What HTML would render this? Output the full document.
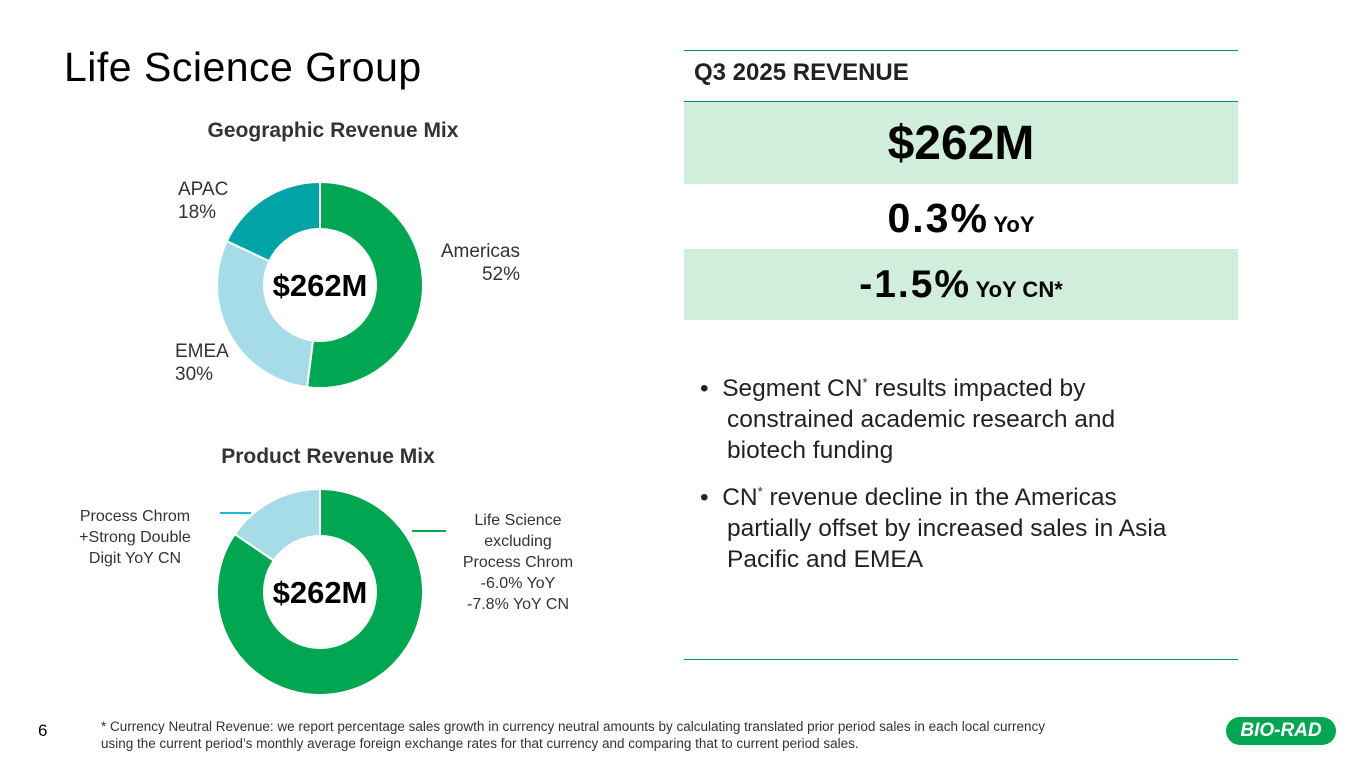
<!DOCTYPE html>
<html><head><meta charset="utf-8"><style>
body{margin:0;width:1365px;height:768px;background:#fff;font-family:"Liberation Sans",sans-serif;position:relative;overflow:hidden;color:#000}
.a{position:absolute}
</style></head><body>
<div class="a" style="left:64px;top:44px;font-size:41px;letter-spacing:0.5px">Life Science Group</div>
<div class="a" style="left:168px;top:119px;width:330px;text-align:center;font-size:21px;font-weight:bold;color:#333">Geographic Revenue Mix</div>
<div class="a" style="left:163px;top:445px;width:330px;text-align:center;font-size:21px;font-weight:bold;color:#333">Product Revenue Mix</div>
<svg class="a" style="left:0;top:0" width="680" height="768" id="svg"></svg>
<div class="a" style="left:178px;top:178px;font-size:19px;color:#333;line-height:23px">APAC<br>18%</div>
<div class="a" style="left:420px;top:240px;width:100px;text-align:right;font-size:19px;color:#333;line-height:23px">Americas<br>52%</div>
<div class="a" style="left:175px;top:340px;font-size:19px;color:#333;line-height:23px">EMEA<br>30%</div>
<div class="a" style="left:60px;top:506px;width:150px;text-align:center;font-size:16px;color:#333;line-height:21px">Process Chrom<br>+Strong Double<br>Digit YoY CN</div>
<div class="a" style="left:443px;top:510px;width:150px;text-align:center;font-size:16px;color:#333;line-height:21px">Life Science<br>excluding<br>Process Chrom<br>-6.0% YoY<br>-7.8% YoY CN</div>
<div class="a" style="left:220px;top:512px;width:31px;height:2px;background:#1fb5d4"></div>
<div class="a" style="left:412px;top:530px;width:34px;height:2px;background:#00a651"></div>

<div class="a" style="left:684px;top:50px;width:554px;height:1px;background:#008a7e"></div>
<div class="a" style="left:694px;top:59px;font-size:24px;font-weight:bold;color:#222">Q3 2025 REVENUE</div>
<div class="a" style="left:684px;top:101px;width:554px;height:1px;background:#008a7e"></div>
<div class="a" style="left:684px;top:102px;width:554px;height:82px;background:#d1eedd;text-align:center;font-size:48px;font-weight:bold;line-height:84px">$262M</div>
<div class="a" style="left:684px;top:185px;width:554px;height:64px;text-align:center;line-height:66px"><span style="font-size:41px;font-weight:bold;letter-spacing:2px">0.3%</span> <span style="font-size:22px;font-weight:bold">YoY</span></div>
<div class="a" style="left:684px;top:249px;width:554px;height:71px;background:#d1eedd;text-align:center;line-height:72px"><span style="font-size:39px;font-weight:bold;letter-spacing:2px">-1.5%</span> <span style="font-size:22px;font-weight:bold">YoY CN*</span></div>
<div class="a" style="left:700px;top:373px;width:500px;font-size:24.5px;line-height:31px;color:#222">
<div style="padding-left:27px;text-indent:-27px;margin-bottom:16px">•&nbsp;&nbsp;Segment CN<sup style="font-size:13px;line-height:0">*</sup> results impacted by constrained academic research and biotech funding</div>
<div style="padding-left:27px;text-indent:-27px">•&nbsp;&nbsp;CN<sup style="font-size:13px;line-height:0">*</sup> revenue decline in the Americas partially offset by increased sales in Asia Pacific and EMEA</div>
</div>
<div class="a" style="left:684px;top:659px;width:554px;height:1px;background:#008a7e"></div>
<div class="a" style="left:38px;top:721px;font-size:17px">6</div>
<div class="a" style="left:101px;top:718px;width:1100px;font-size:13.5px;line-height:17px;color:#333">* Currency Neutral Revenue: we report percentage sales growth in currency neutral amounts by calculating translated prior period sales in each local currency<br>using the current period’s monthly average foreign exchange rates for that currency and comparing that to current period sales.</div>
<div class="a" style="left:1226px;top:717px;width:110px;height:28px;border-radius:14px;background:#00a651;color:#fff;font-weight:bold;font-style:italic;font-size:19px;text-align:center;line-height:28px">BIO-RAD</div>
<script>
const geoCategories=["Americas","EMEA","APAC"];
const geoValues=[52,30,18];
const geoColors=["#00a651","#a6dbe8","#00a3a6"];
const prodCategories=["Life Science excl. Process Chrom","Process Chrom"];
const prodValues=[84.5,15.5];
const prodColors=["#00a651","#a6dbe8"];
const svg=document.getElementById('svg');
const NS='http://www.w3.org/2000/svg';
function pt(cx,cy,r,f){const a=f*2*Math.PI;return [cx+r*Math.sin(a),cy-r*Math.cos(a)];}
function donut(cx,cy,R,r,vals,cols,cats,name){
 const tot=vals.reduce((a,b)=>a+b,0);let acc=0;
 vals.forEach((v,i)=>{const f0=acc/tot,f1=(acc+v)/tot;acc+=v;
  const l=(f1-f0)>0.5?1:0;const [x0,y0]=pt(cx,cy,R,f0),[x1,y1]=pt(cx,cy,R,f1),[x2,y2]=pt(cx,cy,r,f1),[x3,y3]=pt(cx,cy,r,f0);
  const p=document.createElementNS(NS,'path');
  p.setAttribute('d',`M${x0},${y0}A${R},${R} 0 ${l} 1 ${x1},${y1}L${x2},${y2}A${r},${r} 0 ${l} 0 ${x3},${y3}Z`);
  p.setAttribute('fill',cols[i]);p.setAttribute('stroke','#fff');p.setAttribute('stroke-width','2');
  
  
  svg.appendChild(p);});
 const t=document.createElementNS(NS,'text');t.setAttribute('x',cx);t.setAttribute('y',cy+11);t.setAttribute('text-anchor','middle');
 t.setAttribute('font-size','31');t.setAttribute('font-weight','bold');t.setAttribute('font-family','Liberation Sans, sans-serif');t.textContent='$262M';
 
 
 svg.appendChild(t);}
donut(320,285,103,56,geoValues,geoColors,geoCategories,'geo');
donut(320,592,103,56,prodValues,prodColors,prodCategories,'product');
</script>
</body></html>
